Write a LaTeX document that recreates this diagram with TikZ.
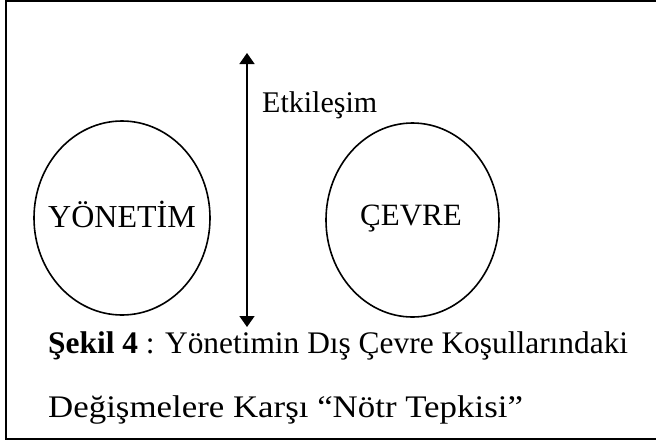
\documentclass[tikz,border=0pt]{standalone}
\usepackage{fontspec}
\usepackage{graphicx}
\setmainfont{Liberation Serif}
\usetikzlibrary{arrows.meta}
\tikzset{
  lbl/.style={inner sep=0pt, anchor=base west, font=\fontsize{31}{36}\selectfont},
  captext/.style={inner sep=0pt, anchor=base west, font=\fontsize{31.4}{36}\selectfont},
  oval/.style={draw, line width=1.6pt},
  frame/.style={draw, line width=1.8pt},
  arr/.style={line width=1.6pt, {Triangle[width=15pt,length=11pt]}-{Triangle[width=15pt,length=11pt]}}
}
\begin{document}
\begin{tikzpicture}[x=1pt,y=-1pt]
\useasboundingbox (0,0) rectangle (656,445);
\draw[frame] (656,1) -- (6,1) -- (6,439) -- (656,439);
\draw[oval] (122,218) ellipse [x radius=88, y radius=97];
\draw[oval] (412.5,220) ellipse [x radius=86.5, y radius=97];
\coordinate (top) at (247,53);
\coordinate (bot) at (247,327);
\draw[arr] (bot) -- (top);
\node[lbl, font=\fontsize{30}{36}\selectfont] (etk) at (262,112) {Etkileşim};
\node[lbl, font=\fontsize{32}{36}\selectfont] (yon) at (48,227) {YÖNETİM};
\node[lbl] (cev) at (360,225) {ÇEVRE};
\node[captext] (c1) at (48,353) {\textbf{Şekil 4} : Yönetimin Dış Çevre Koşullarındaki};
\node[captext] (c2) at (48,417) {\scalebox{1.11}[1]{Değişmelere Karşı “Nötr Tepkisi”}};
\end{tikzpicture}
\end{document}
